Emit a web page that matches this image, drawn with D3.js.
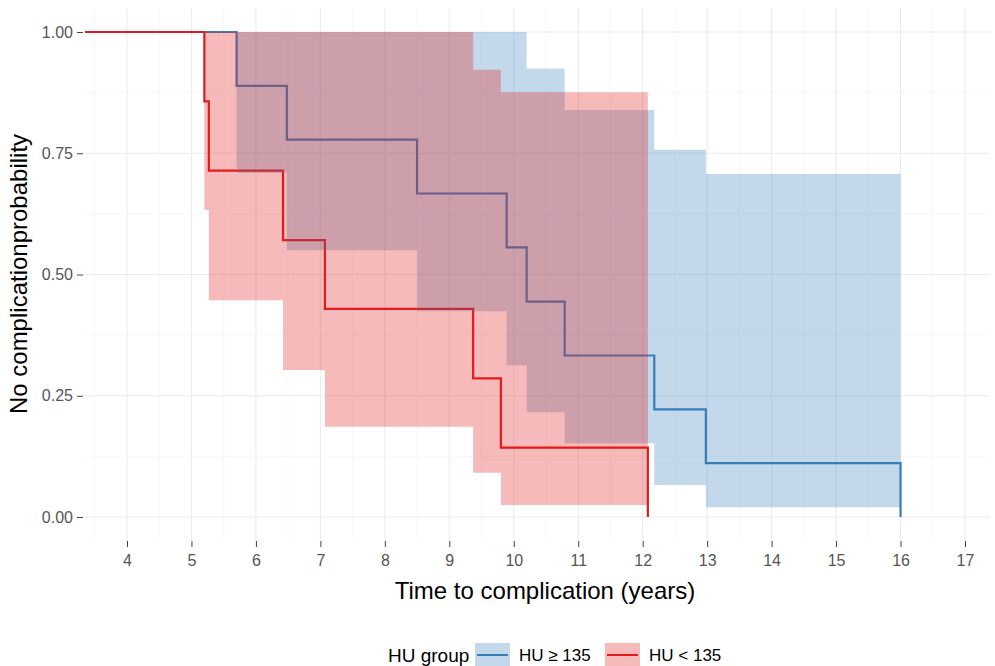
<!DOCTYPE html>
<html lang="en">
<head>
  <meta charset="UTF-8">
  <title>Time to complication by HU group</title>
  <script src="https://d3js.org/d3.v7.min.js"></script>
  <style>
    body { margin: 0; background: #fff; }
    svg { font-family: "Liberation Sans", Arial, sans-serif; }
    .grid-major { stroke: #ebebeb; stroke-width: 1.1px; }
    .grid-minor { stroke: #f3f3f3; stroke-width: 0.6px; }
    .tick text { fill: #555; font-size: 16px; }
    .tick line { stroke: #444; }
    .axis-title { font-size: 24px; fill: #000; }
    .legend-title { font-size: 19px; fill: #000; }
    .legend-label { font-size: 17px; fill: #000; }
  </style>
</head>
<body>
<svg width="995" height="666"></svg>
<script>
  // Kaplan-Meier estimates
  const startTime = 3.35;

  // HU >= 135
  const hiTimes = [5.7, 6.48, 8.5, 9.89, 10.2, 10.79, 12.18, 12.98, 16.0];
  const hiSurv  = [0.889, 0.778, 0.667, 0.556, 0.444, 0.333, 0.222, 0.111, 0];
  const hiUpper = [1, 1, 1, 1, 0.925, 0.839, 0.757, 0.707];
  const hiLower = [0.71, 0.55, 0.424, 0.313, 0.216, 0.152, 0.066, 0.02];

  // HU < 135
  const loTimes = [5.2, 5.27, 6.42, 7.07, 9.37, 9.8, 12.08];
  const loSurv  = [0.857, 0.714, 0.571, 0.429, 0.286, 0.143, 0];
  const loUpper = [1, 1, 1, 1, 0.922, 0.876];
  const loLower = [0.633, 0.447, 0.303, 0.186, 0.091, 0.025];

  const xTicks = [4, 5, 6, 7, 8, 9, 10, 11, 12, 13, 14, 15, 16, 17];
  const yTicks = [0, 0.25, 0.5, 0.75, 1];
  const groupNames = ["HU \u2265 135", "HU < 135"];
  const groupColors = ["#377EB8", "#E41A1C"];

  const svg = d3.select("svg");

  // panel
  const panel = {left: 84, right: 990, top: 8, bottom: 541};

  const x = d3.scaleLinear().domain([4, 17]).range([127, 965]);
  const y = d3.scaleLinear().domain([0, 1]).range([517, 32]);

  // grid lines (major + minor)
  const xMinor = d3.range(3.5, 17.6, 1).filter(v => x(v) > panel.left && x(v) < panel.right);
  const yMinor = [0.125, 0.375, 0.625, 0.875];

  const grid = svg.append("g");
  grid.selectAll(".gxm").data(xMinor).enter().append("line")
      .attr("class", "grid-minor")
      .attr("x1", d => x(d)).attr("x2", d => x(d))
      .attr("y1", panel.top).attr("y2", panel.bottom);
  grid.selectAll(".gym").data(yMinor).enter().append("line")
      .attr("class", "grid-minor")
      .attr("y1", d => y(d)).attr("y2", d => y(d))
      .attr("x1", panel.left).attr("x2", panel.right);
  grid.selectAll(".gx").data(xTicks).enter().append("line")
      .attr("class", "grid-major")
      .attr("x1", d => x(d)).attr("x2", d => x(d))
      .attr("y1", panel.top).attr("y2", panel.bottom);
  grid.selectAll(".gy").data(yTicks).enter().append("line")
      .attr("class", "grid-major")
      .attr("y1", d => y(d)).attr("y2", d => y(d))
      .attr("x1", panel.left).attr("x2", panel.right);

  // build step data
  function curvePoints(times, surv) {
    const pts = [{t: startTime, s: 1}];
    times.forEach((t, i) => pts.push({t: t, s: surv[i]}));
    return pts;
  }
  function bandPoints(times, lower, upper) {
    const pts = lower.map((l, i) => ({t: times[i], lo: l, hi: upper[i]}));
    pts.push({t: times[times.length - 1], lo: lower[lower.length - 1], hi: upper[upper.length - 1]});
    return pts;
  }

  const groups = [
    {curve: curvePoints(hiTimes, hiSurv), band: bandPoints(hiTimes, hiLower, hiUpper)},
    {curve: curvePoints(loTimes, loSurv), band: bandPoints(loTimes, loLower, loUpper)}
  ];

  const line = d3.line()
      .curve(d3.curveStepAfter)
      .x(d => x(d.t))
      .y(d => y(d.s));

  const area = d3.area()
      .curve(d3.curveStepAfter)
      .x(d => x(d.t))
      .y0(d => y(d.lo))
      .y1(d => y(d.hi));

  // survival curves first, confidence ribbons drawn on top
  groups.forEach((g, i) => {
    svg.append("path")
        .attr("d", line(g.curve))
        .attr("fill", "none")
        .attr("stroke", groupColors[i])
        .attr("stroke-width", 2.2);
  });
  groups.forEach((g, i) => {
    svg.append("path")
        .attr("d", area(g.band))
        .attr("fill", groupColors[i])
        .attr("fill-opacity", 0.3)
        .attr("stroke", "none");
  });

  // axes
  const xAxis = svg.append("g")
      .attr("transform", "translate(0," + panel.bottom + ")")
      .call(d3.axisBottom(x).tickValues(xTicks).tickFormat(d3.format("d")).tickSize(6).tickPadding(8));
  xAxis.select(".domain").remove();

  const yAxis = svg.append("g")
      .attr("transform", "translate(" + (panel.left - 1) + ",0)")
      .call(d3.axisLeft(y).tickValues(yTicks).tickFormat(d3.format(".2f")).tickSize(6).tickPadding(4));
  yAxis.select(".domain").remove();

  // axis titles
  svg.append("text")
      .attr("class", "axis-title")
      .attr("x", 545)
      .attr("y", 599)
      .attr("text-anchor", "middle")
      .text("Time to complication (years)");

  svg.append("text")
      .attr("class", "axis-title")
      .attr("transform", "translate(27,274) rotate(-90)")
      .attr("text-anchor", "middle")
      .text("No complicationprobability");

  // legend
  const legend = svg.append("g").attr("transform", "translate(388,655)");
  legend.append("text")
      .attr("class", "legend-title")
      .attr("x", 0).attr("y", 7)
      .text("HU group");

  const keyX = [87, 217];
  groupNames.forEach((name, i) => {
    const k = legend.append("g").attr("transform", "translate(" + keyX[i] + ",0)");
    k.append("rect")
        .attr("x", 0).attr("y", -12)
        .attr("width", 35).attr("height", 24)
        .attr("fill", groupColors[i])
        .attr("fill-opacity", 0.3);
    k.append("line")
        .attr("x1", 2).attr("x2", 33)
        .attr("y1", 0).attr("y2", 0)
        .attr("stroke", groupColors[i])
        .attr("stroke-width", 2);
    k.append("text")
        .attr("class", "legend-label")
        .attr("x", 44).attr("y", 6)
        .text(name);
  });
</script>
</body>
</html>
